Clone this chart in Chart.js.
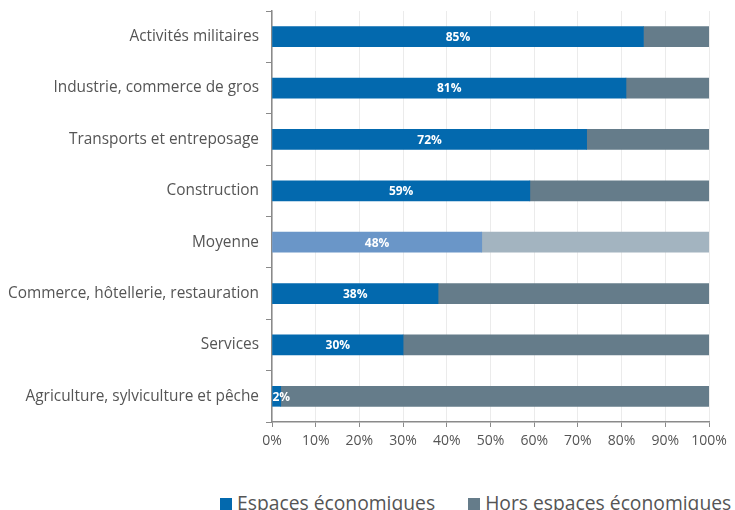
<!DOCTYPE html>
<html lang="fr">
<head>
<meta charset="utf-8">
<script src="https://cdn.jsdelivr.net/npm/chart.js@4/dist/chart.umd.min.js"></script>
<style>
  html, body { margin: 0; padding: 0; background: #fff; overflow: hidden; }
  #wrap { position: relative; width: 735px; height: 510px; }
  #box { position: absolute; left: 0; top: 0; width: 735px; height: 470px; }
  #legend { position: absolute; left: 220px; top: 493px; white-space: nowrap;
            font-family: "Open Sans", sans-serif; font-size: 19.3px; line-height: 20px; color: #555; }
  #legend span.item { display: inline-block; margin-right: 33px; }
  #legend span.sw { display: inline-block; width: 12px; height: 12px; margin-right: 5px; vertical-align: 0px; }
</style>
</head>
<body>
<div id="wrap">
  <div id="box"><canvas id="c"></canvas></div>
  <div id="legend"></div>
</div>
<script>
// Part des activités situées dans les espaces économiques, par secteur
const categories = [
  "Activités militaires",
  "Industrie, commerce de gros",
  "Transports et entreposage",
  "Construction",
  "Moyenne",
  "Commerce, hôtellerie, restauration",
  "Services",
  "Agriculture, sylviculture et pêche"
];
const espaces = [85, 81, 72, 59, 48, 38, 30, 2];
const horsEspaces = [15, 19, 28, 41, 52, 62, 70, 98];
const seriesNames = ["Espaces économiques", "Hors espaces économiques"];
const xTicks = [0, 10, 20, 30, 40, 50, 60, 70, 80, 90, 100];

const BLUE = "#0369ae", GREY = "#657c8a";
const BLUE_AVG = "#6a96c8", GREY_AVG = "#a3b4c0";
const fontFamily = "'Open Sans', sans-serif";

const colorsFor = (base, avg) => categories.map(c => c === "Moyenne" ? avg : base);

// Value labels centred in the first segment, kept inside the bar start
const valueLabels = {
  id: "valueLabels",
  afterDatasetsDraw(chart) {
    const ctx = chart.ctx;
    const meta = chart.getDatasetMeta(0);
    ctx.save();
    ctx.font = "bold 12px " + fontFamily;
    ctx.fillStyle = "#fff";
    ctx.textAlign = "center";
    ctx.textBaseline = "middle";
    meta.data.forEach((bar, i) => {
      const txt = espaces[i] + "%";
      const w = ctx.measureText(txt).width;
      const left = bar.base, right = bar.x;
      let x = (left + right) / 2;
      if (x - w / 2 < left) x = left + w / 2;
      ctx.fillText(txt, x, bar.y + 1);
    });
    ctx.restore();
  }
};

const chart = new Chart(document.getElementById("c"), {
  type: "bar",
  data: {
    labels: categories,
    datasets: [
      { label: seriesNames[0], data: espaces, backgroundColor: colorsFor(BLUE, BLUE_AVG), barThickness: 20 },
      { label: seriesNames[1], data: horsEspaces, backgroundColor: colorsFor(GREY, GREY_AVG), barThickness: 20 }
    ]
  },
  options: {
    indexAxis: "y",
    responsive: true,
    maintainAspectRatio: false,
    animation: false,
    layout: { padding: { top: 11, right: 26, left: 0, bottom: 0 } },
    plugins: { legend: { display: false }, tooltip: { enabled: false } },
    scales: {
      x: {
        stacked: true,
        min: 0, max: 100,
        afterFit(s) { s.height = 48; },
        afterBuildTicks(s) { s.ticks = xTicks.map(v => ({ value: v })); },
        ticks: { callback: v => v + "%", color: "#555", font: { family: fontFamily, size: 14 }, padding: 6, maxRotation: 0 },
        grid: { color: "#ebebeb", tickColor: "#8a8a8a", tickLength: 5 },
        border: { color: "#8a8a8a", width: 1.5 }
      },
      y: {
        stacked: true,
        afterFit(s) { s.width = 272; s.paddingTop = 0; s.paddingBottom = 0; },
        ticks: { color: "#555", font: { family: fontFamily, size: 15.4 }, padding: 7 },
        grid: { drawOnChartArea: false, tickColor: "#8a8a8a", tickLength: 6 },
        border: { color: "#8a8a8a", width: 1.5 }
      }
    }
  },
  plugins: [valueLabels]
});

// Legend built from the dataset definitions
const legend = document.getElementById("legend");
[BLUE, GREY].forEach((col, i) => {
  const item = document.createElement("span");
  item.className = "item";
  const sw = document.createElement("span");
  sw.className = "sw";
  sw.style.background = col;
  item.appendChild(sw);
  item.appendChild(document.createTextNode(chart.data.datasets[i].label));
  legend.appendChild(item);
});
</script>
</body>
</html>
